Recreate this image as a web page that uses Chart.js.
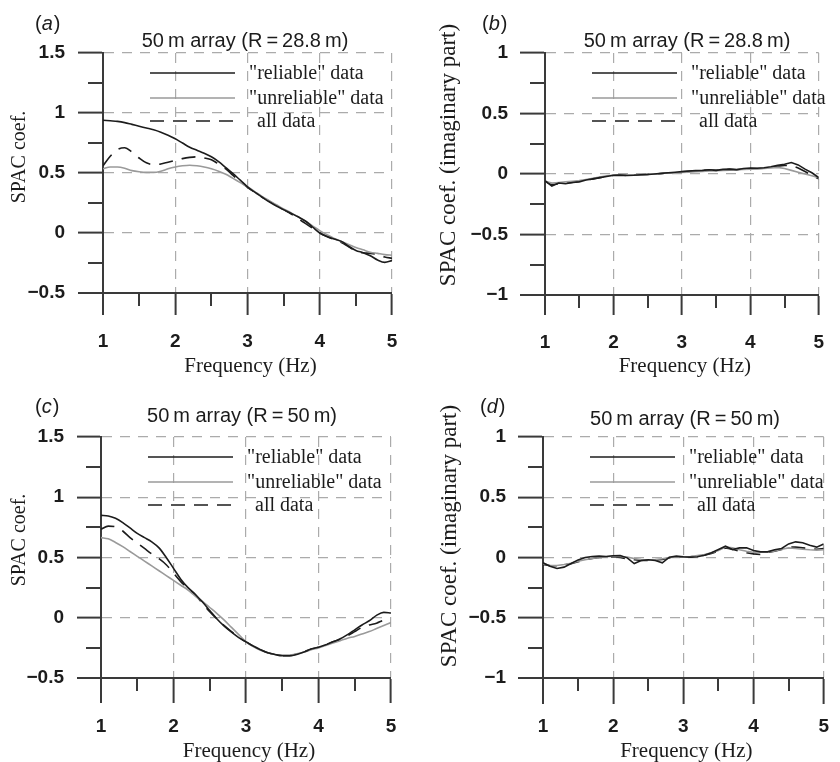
<!DOCTYPE html>
<html lang="en">
<head>
<meta charset="UTF-8">
<title>SPAC coefficients, 50 m array</title>
<script src="https://cdn.jsdelivr.net/npm/chart.js"></script>
<style>
  body { margin: 0; background: #fff; }
  .panel { position: absolute; }
  canvas { display: block; }
</style>
</head>
<body>
<div class="panel" style="left:0;top:0"><canvas id="chartA" width="420" height="380"></canvas></div>
<div class="panel" style="left:420px;top:0"><canvas id="chartB" width="420" height="380"></canvas></div>
<div class="panel" style="left:0;top:380px"><canvas id="chartC" width="420" height="382"></canvas></div>
<div class="panel" style="left:420px;top:380px"><canvas id="chartD" width="420" height="382"></canvas></div>

<script>
// frequency samples (Hz), shared by all four panels
const freq = [1.0, 1.1, 1.2, 1.3, 1.4, 1.5, 1.6, 1.7, 1.8, 1.9,
              2.0, 2.1, 2.2, 2.3, 2.4, 2.5, 2.6, 2.7, 2.8, 2.9,
              3.0, 3.1, 3.2, 3.3, 3.4, 3.5, 3.6, 3.7, 3.8, 3.9,
              4.0, 4.1, 4.2, 4.3, 4.4, 4.5, 4.6, 4.7, 4.8, 4.9, 5.0];

const legendLabels = ['"reliable" data', '"unreliable" data', 'all data'];

// (a) R = 28.8 m, real part
const reliableA = [0.94, 0.935, 0.93, 0.92, 0.905, 0.89, 0.875, 0.86, 0.84, 0.815,
                   0.785, 0.75, 0.715, 0.69, 0.665, 0.635, 0.595, 0.545, 0.495, 0.44,
                   0.385, 0.34, 0.3, 0.26, 0.225, 0.195, 0.165, 0.135, 0.1, 0.05,
                   0.0, -0.03, -0.05, -0.07, -0.11, -0.145, -0.165, -0.19, -0.225, -0.245, -0.23];
const unreliableA = [0.535, 0.55, 0.55, 0.54, 0.52, 0.51, 0.505, 0.505, 0.515, 0.535,
                     0.55, 0.56, 0.565, 0.56, 0.55, 0.535, 0.515, 0.49, 0.455, 0.42,
                     0.385, 0.345, 0.305, 0.27, 0.235, 0.2, 0.17, 0.135, 0.1, 0.06,
                     0.02, -0.015, -0.045, -0.07, -0.095, -0.12, -0.14, -0.16, -0.17, -0.18, -0.185];
const allA = [0.56, 0.64, 0.695, 0.71, 0.675, 0.625, 0.585, 0.57, 0.575, 0.59,
              0.605, 0.62, 0.63, 0.635, 0.625, 0.61, 0.575, 0.535, 0.48, 0.43,
              0.38, 0.34, 0.3, 0.265, 0.23, 0.195, 0.16, 0.12, 0.08, 0.04,
              0.0, -0.03, -0.055, -0.08, -0.115, -0.15, -0.165, -0.17, -0.18, -0.2, -0.21];

// (b) R = 28.8 m, imaginary part
const reliableB = [-0.055, -0.1, -0.075, -0.08, -0.07, -0.065, -0.05, -0.04, -0.03, -0.02,
                   -0.01, -0.008, -0.012, -0.01, -0.006, -0.004, 0.0, 0.005, 0.01, 0.015,
                   0.02, 0.025, 0.028, 0.03, 0.035, 0.03, 0.038, 0.04, 0.035, 0.045,
                   0.05, 0.048, 0.052, 0.06, 0.072, 0.08, 0.095, 0.075, 0.04, 0.01, -0.03];
const unreliableB = [-0.06, -0.075, -0.07, -0.065, -0.06, -0.055, -0.045, -0.035, -0.025, -0.015,
                     -0.01, -0.009, -0.008, -0.006, -0.005, -0.003, 0.0, 0.004, 0.008, 0.01,
                     0.012, 0.015, 0.02, 0.022, 0.025, 0.028, 0.03, 0.032, 0.035, 0.038,
                     0.04, 0.042, 0.045, 0.05, 0.055, 0.045, 0.03, 0.015, 0.0, -0.015, -0.03];
const allB = [-0.06, -0.09, -0.08, -0.075, -0.07, -0.06, -0.05, -0.04, -0.03, -0.02,
              -0.012, -0.01, -0.012, -0.008, -0.006, -0.003, 0.0, 0.004, 0.008, 0.012,
              0.018, 0.022, 0.025, 0.03, 0.032, 0.03, 0.035, 0.038, 0.036, 0.04,
              0.045, 0.045, 0.048, 0.055, 0.065, 0.07, 0.07, 0.05, 0.02, -0.01, -0.04];

// (c) R = 50 m, real part
const reliableC = [0.85, 0.845, 0.825, 0.79, 0.745, 0.7, 0.665, 0.63, 0.58, 0.5,
                   0.41, 0.32, 0.25, 0.195, 0.13, 0.06, -0.01, -0.07, -0.12, -0.165,
                   -0.2, -0.235, -0.265, -0.29, -0.305, -0.315, -0.315, -0.305, -0.285, -0.26,
                   -0.245, -0.225, -0.2, -0.175, -0.14, -0.1, -0.06, -0.025, 0.02, 0.045, 0.04];
const unreliableC = [0.665, 0.655, 0.625, 0.59, 0.55, 0.51, 0.47, 0.43, 0.39, 0.35,
                     0.31, 0.27, 0.23, 0.18, 0.135, 0.085, 0.035, -0.02, -0.08, -0.14,
                     -0.2, -0.24, -0.27, -0.29, -0.305, -0.31, -0.31, -0.3, -0.285, -0.265,
                     -0.25, -0.23, -0.21, -0.19, -0.17, -0.155, -0.135, -0.115, -0.09, -0.065, -0.04];
const allC = [0.735, 0.76, 0.755, 0.72, 0.665, 0.62, 0.575, 0.53, 0.49, 0.44,
              0.37, 0.3, 0.245, 0.19, 0.12, 0.05, -0.01, -0.065, -0.115, -0.16,
              -0.2, -0.235, -0.265, -0.29, -0.305, -0.315, -0.315, -0.3, -0.28, -0.26,
              -0.245, -0.225, -0.2, -0.18, -0.15, -0.115, -0.08, -0.06, -0.045, -0.02, -0.015];

// (d) R = 50 m, imaginary part
const reliableD = [-0.044, -0.072, -0.091, -0.08, -0.05, -0.02, 0.0, 0.008, 0.011, 0.008,
                   0.014, 0.017, -0.003, -0.05, -0.025, -0.019, -0.025, -0.044, 0.003, 0.011,
                   0.006, 0.003, 0.006, 0.019, 0.039, 0.066, 0.094, 0.066, 0.08, 0.08,
                   0.058, 0.047, 0.047, 0.064, 0.075, 0.113, 0.13, 0.122, 0.102, 0.086, 0.113];
const unreliableD = [-0.052, -0.064, -0.066, -0.058, -0.047, -0.03, -0.019, -0.008, 0.0, 0.006,
                     0.011, 0.008, 0.003, -0.008, -0.017, -0.019, -0.017, -0.011, 0.0, 0.006,
                     0.006, 0.008, 0.017, 0.025, 0.039, 0.058, 0.086, 0.08, 0.064, 0.052,
                     0.044, 0.047, 0.047, 0.055, 0.069, 0.08, 0.075, 0.069, 0.064, 0.061, 0.064];
const allD = [-0.058, -0.069, -0.069, -0.061, -0.052, -0.036, -0.019, -0.008, 0.0, 0.003,
              0.006, 0.0, -0.011, -0.019, -0.025, -0.025, -0.022, -0.017, -0.003, 0.003,
              0.006, 0.006, 0.011, 0.019, 0.033, 0.052, 0.08, 0.069, 0.052, 0.039,
              0.03, 0.025, 0.041, 0.052, 0.066, 0.086, 0.086, 0.08, 0.075, 0.069, 0.075];

const INK = '#1c1c1c', AXIS = '#3a3a3a', GRID = '#ababab', GREY = '#9a9a9a';
const SANS = '"Liberation Sans", Arial, sans-serif';
const SERIF = '"Liberation Serif", "Times New Roman", serif';

const isMajor = (v, step) => Math.abs(v / step - Math.round(v / step)) < 1e-6;
const fmt = v => (v < 0 ? '\u2212' : '') + String(Math.abs(v));

// dashed grid only on major values, solid ticks drawn by the library for majors
function gridOpts(step, min, tickLen) {
  return {
    color: GRID,
    lineWidth: c => (c.tick && isMajor(c.tick.value, step) && c.tick.value !== min) ? 1.2 : 0,
    tickColor: c => (c.tick && isMajor(c.tick.value, step)) ? AXIS : 'rgba(0,0,0,0)',
    tickWidth: 2,
    tickLength: tickLen,
    tickBorderDash: []
  };
}

// labels, titles, minor ticks and the in-plot legend
function decor(p) {
  return {
    id: 'decor',
    afterDraw(chart) {
      const {ctx, chartArea: a} = chart;
      const xs = chart.scales.x, ys = chart.scales.y;
      ctx.save();

      ctx.strokeStyle = AXIS;
      ctx.lineWidth = 2;
      ctx.beginPath();
      ys.ticks.forEach(t => {
        if (isMajor(t.value, 0.5)) return;
        const py = Math.round(ys.getPixelForValue(t.value));
        ctx.moveTo(a.left - 15, py); ctx.lineTo(a.left, py);
      });
      xs.ticks.forEach(t => {
        if (isMajor(t.value, 1)) return;
        const px = Math.round(xs.getPixelForValue(t.value));
        ctx.moveTo(px, a.bottom); ctx.lineTo(px, a.bottom + 13);
      });
      ctx.stroke();

      ctx.fillStyle = INK;
      ctx.textBaseline = 'middle';
      ctx.textAlign = 'left';
      let lx = p.letterAt[0];
      const ly = p.letterAt[1];
      ctx.font = '20px ' + SANS;
      ctx.fillText('(', lx, ly);
      lx += ctx.measureText('(').width;
      ctx.font = 'italic 20px ' + SANS;
      ctx.fillText(p.letter, lx, ly);
      lx += ctx.measureText(p.letter).width + 1;
      ctx.font = '20px ' + SANS;
      ctx.fillText(')', lx, ly);

      ctx.textAlign = 'center';
      ctx.fillText(p.title, p.titleAt[0], p.titleAt[1]);

      ctx.font = '21px ' + SERIF;
      ctx.fillText('Frequency (Hz)', (a.left + a.right) / 2 + 3, p.xTitleY);

      ctx.save();
      ctx.font = p.yTitleSize + 'px ' + SERIF;
      ctx.translate(p.yTitleAt[0], p.yTitleAt[1]);
      ctx.rotate(-Math.PI / 2);
      ctx.fillText(p.yTitle, 0, 0);
      ctx.restore();

      // legend rows follow the dataset order: reliable, unreliable, all
      const dy = [20, 45, 68];
      chart.data.datasets.forEach((d, i) => {
        const yy = a.top + dy[i];
        ctx.strokeStyle = d.borderColor;
        ctx.lineWidth = d.borderWidth;
        ctx.setLineDash(d.borderDash || []);
        ctx.beginPath();
        ctx.moveTo(a.left + 47, yy);
        ctx.lineTo(a.left + 132, yy);
        ctx.stroke();
        ctx.setLineDash([]);
        ctx.textAlign = 'left';
        ctx.font = '20px ' + SERIF;
        ctx.fillStyle = INK;
        ctx.fillText(d.label, a.left + 146 + (i === 2 ? 8 : 0), yy + 1);
      });
      ctx.restore();
    }
  };
}

function makePanel(id, p) {
  const canvas = document.getElementById(id);
  const W = canvas.width, H = canvas.height;
  const pts = arr => freq.map((f, i) => ({x: f, y: arr[i]}));
  const line = {
    tension: p.smooth ? 0.4 : 0,
    cubicInterpolationMode: p.smooth ? 'monotone' : 'default'
  };
  const tickFont = {family: SANS, size: 19, weight: 'bold'};
  return new Chart(canvas, {
    type: 'line',
    data: {
      datasets: [
        {label: legendLabels[0], data: pts(p.reliable), borderColor: INK, borderWidth: 1.6, ...line},
        {label: legendLabels[1], data: pts(p.unreliable), borderColor: GREY, borderWidth: 1.6, ...line},
        {label: legendLabels[2], data: pts(p.all), borderColor: INK, borderWidth: 1.6, borderDash: [14, 9], ...line}
      ]
    },
    options: {
      responsive: false,
      animation: false,
      events: [],
      layout: {padding: {left: 0, top: p.area.top, right: W - p.area.right, bottom: 0}},
      plugins: {legend: {display: false}, tooltip: {enabled: false}},
      elements: {point: {radius: 0}},
      scales: {
        x: {
          type: 'linear', min: 1, max: 5,
          afterFit: s => { s.height = H - p.area.bottom; },
          ticks: {
            stepSize: 0.5, autoSkip: false, maxRotation: 0, padding: p.xPad, color: INK,
            font: tickFont,
            callback: v => isMajor(v, 1) ? fmt(v) : ''
          },
          grid: gridOpts(1, 1, p.xTick),
          border: {color: AXIS, width: 2, dash: [10, 8]}
        },
        y: {
          type: 'linear', min: p.yMin, max: p.yMax,
          afterFit: s => { s.width = p.area.left; },
          ticks: {
            stepSize: 0.25, autoSkip: false, padding: p.yPad, color: INK,
            font: tickFont,
            callback: v => isMajor(v, 0.5) ? fmt(v) : ''
          },
          grid: gridOpts(0.5, p.yMin, p.yTick),
          border: {color: AXIS, width: 2, dash: [10, 8]}
        }
      }
    },
    plugins: [decor(p)]
  });
}

makePanel('chartA', {
  letter: 'a', title: '50\u2009m array (R\u2009=\u200928.8\u2009m)', yTitle: 'SPAC coef.', yTitleSize: 20,
  reliable: reliableA, unreliable: unreliableA, all: allA, smooth: true,
  yMin: -0.5, yMax: 1.5,
  area: {left: 103, top: 53, right: 392, bottom: 293},
  yTick: 25, yPad: 13, xTick: 22, xPad: 15,
  letterAt: [35, 24], titleAt: [245, 41], yTitleAt: [20, 157], xTitleY: 366
});
makePanel('chartB', {
  letter: 'b', title: '50\u2009m array (R\u2009=\u200928.8\u2009m)', yTitle: 'SPAC coef. (imaginary part)', yTitleSize: 23,
  reliable: reliableB, unreliable: unreliableB, all: allB, smooth: false,
  yMin: -1, yMax: 1,
  area: {left: 125, top: 53, right: 413, bottom: 295},
  yTick: 25, yPad: 12, xTick: 20, xPad: 16,
  letterAt: [62, 24], titleAt: [267, 41], yTitleAt: [29, 155], xTitleY: 366
});
makePanel('chartC', {
  letter: 'c', title: '50\u2009m array (R\u2009=\u200950\u2009m)', yTitle: 'SPAC coef.', yTitleSize: 20,
  reliable: reliableC, unreliable: unreliableC, all: allC, smooth: true,
  yMin: -0.5, yMax: 1.5,
  area: {left: 101, top: 57, right: 391, bottom: 298},
  yTick: 24, yPad: 13, xTick: 25, xPad: 12,
  letterAt: [35, 27], titleAt: [242, 36], yTitleAt: [20, 160], xTitleY: 371
});
makePanel('chartD', {
  letter: 'd', title: '50\u2009m array (R\u2009=\u200950\u2009m)', yTitle: 'SPAC coef. (imaginary part)', yTitleSize: 23,
  reliable: reliableD, unreliable: unreliableD, all: allD, smooth: false,
  yMin: -1, yMax: 1,
  area: {left: 123, top: 57, right: 412, bottom: 298},
  yTick: 25, yPad: 12, xTick: 26, xPad: 11,
  letterAt: [60, 27], titleAt: [265, 39], yTitleAt: [30, 156], xTitleY: 371
});
</script>
</body>
</html>
